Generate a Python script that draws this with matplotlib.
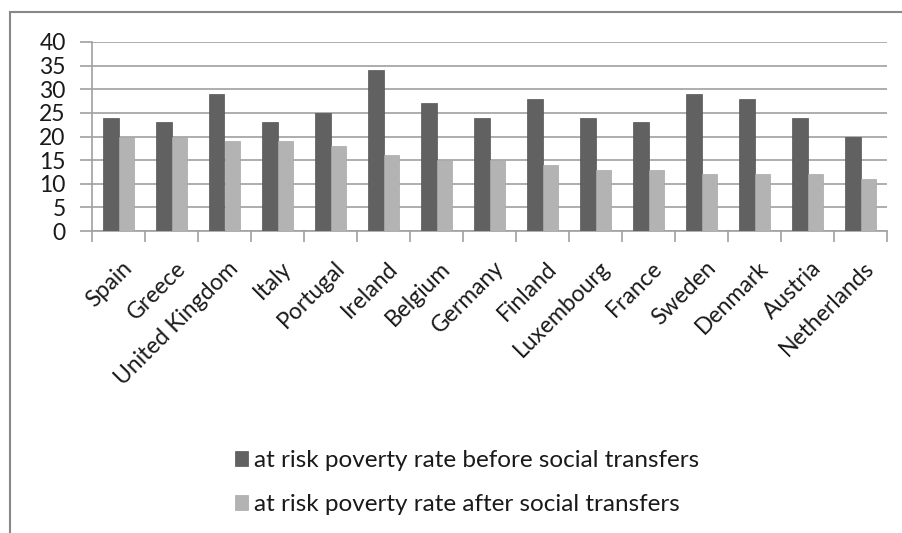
import numpy as np
import matplotlib.pyplot as plt
from matplotlib.patches import Rectangle

# DATA
countries = ["Spain", "Greece", "United Kingdom", "Italy", "Portugal", "Ireland",
             "Belgium", "Germany", "Finland", "Luxembourg", "France", "Sweden",
             "Denmark", "Austria", "Netherlands"]
before = [24, 23, 29, 23, 25, 34, 27, 24, 28, 24, 23, 29, 28, 24, 20]
after = [20, 20, 19, 19, 18, 16, 15, 15, 14, 13, 13, 12, 12, 12, 11]
yticks = [0, 5, 10, 15, 20, 25, 30, 35, 40]

plt.rcParams['font.family'] = ['Lato', 'DejaVu Sans']

W, H = 902, 533
fig = plt.figure(figsize=(W / 100, H / 100), dpi=100)

# outer frame (runs off right and bottom edges)
fig.patches.append(Rectangle((10 / W, -0.1), 1.2, 1 - 12 / H + 0.1,
                             transform=fig.transFigure, fill=False,
                             edgecolor='#888888', linewidth=1.5))

ax = fig.add_axes([92 / W, 1 - 231 / H, (887 - 92) / W, (231 - 42) / H])

x = np.arange(len(countries))
bw = 0.285
ax.bar(x - bw / 2, before, bw, color='#616161', edgecolor='#555555', linewidth=0.5,
       label='at risk poverty rate before social transfers', zorder=3)
ax.bar(x + bw / 2, after, bw, color='#b3b3b3', edgecolor='#a8a8a8', linewidth=0.5,
       label='at risk poverty rate after social transfers', zorder=3)

ax.set_xlim(-0.5, len(countries) - 0.5)
ax.set_ylim(0, 40)
ax.set_yticks(yticks)
ax.set_yticklabels([str(v) for v in yticks], fontsize=16.5, color='#1a1a1a')
ax.yaxis.grid(True, color='#a0a0a0', linewidth=1.2, zorder=0)
ax.tick_params(axis='y', length=9, color='#a0a0a0', width=1.2, pad=10)

# category boundaries as ticks
ax.set_xticks(np.arange(len(countries) + 1) - 0.5)
ax.set_xticklabels([])
ax.tick_params(axis='x', length=8, color='#a0a0a0', width=1.2, direction='out')
ax.set_xticks(x + 0.06, minor=True)
ax.set_xticklabels(countries, minor=True, rotation=45, ha='right',
                   rotation_mode='anchor', fontsize=16.5, color='#1a1a1a')
ax.tick_params(axis='x', which='minor', length=0, pad=19)

for s in ['top', 'right']:
    ax.spines[s].set_visible(False)
for s in ['left', 'bottom']:
    ax.spines[s].set_color('#a0a0a0')
    ax.spines[s].set_linewidth(1.2)

leg = fig.legend(loc='upper left', bbox_to_anchor=(213 / W, 1 - 428 / H),
                 frameon=False, fontsize=17.5, handlelength=0.55, handleheight=0.6,
                 handletextpad=0.25, labelspacing=0.95)
for t in leg.get_texts():
    t.set_color('#1a1a1a')

fig.savefig('out.png', dpi=100)
